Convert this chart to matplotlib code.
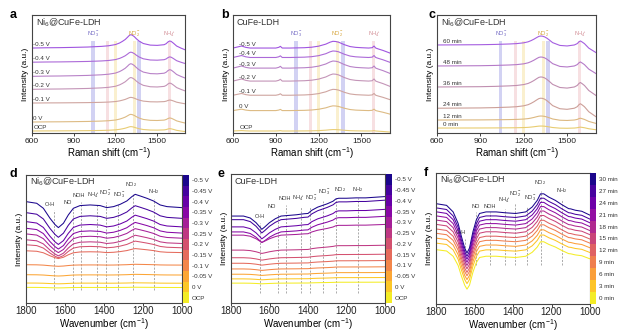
import matplotlib.pyplot as plt
import numpy as np
from matplotlib.colors import ListedColormap

plt.rcParams['font.family'] = ['Liberation Sans', 'DejaVu Sans']
plt.rcParams['mathtext.fontset'] = 'custom'
plt.rcParams['mathtext.rm'] = 'Liberation Sans'
plt.rcParams['mathtext.it'] = 'Liberation Sans:italic'
plt.rcParams['mathtext.bf'] = 'Liberation Sans:bold'

# ---------------- Raman data (a, b, c) ----------------
raman_x_a = [600, 700, 800, 900, 1000, 1100, 1150, 1200, 1230, 1250, 1270, 1285, 1300, 1310, 1320,
             1335, 1350, 1370, 1400, 1450, 1500, 1550, 1565, 1578, 1590, 1600, 1615, 1640, 1670, 1700]
raman_shape_a = [0, 0.02, 0.03, 0.05, 0.075, 0.125, 0.17, 0.26, 0.38, 0.5, 0.64, 0.79, 0.95, 1.0, 0.97,
                 0.86, 0.7, 0.52, 0.34, 0.22, 0.2, 0.25, 0.33, 0.46, 0.53, 0.5, 0.38, 0.15, 0.0, -0.13]
labels_a = ['-0.5 V', '-0.4 V', '-0.3 V', '-0.2 V', '-0.1 V', '0 V', 'OCP']
base_a = [0.72, 0.60, 0.48, 0.37, 0.254, 0.093, 0.017]
amp_a = [0.113, 0.085, 0.107, 0.10, 0.048, 0.065, 0.037]
colors_a = ['#a055e0', '#ac6ad8', '#b882c8', '#c495b8', '#cfa5a0', '#ddbb84', '#e8cc74']

raman_x_b = [600, 630, 660, 690, 720, 800, 900, 920, 932, 945, 1000, 1100, 1150, 1200, 1250, 1280,
             1300, 1320, 1340, 1380, 1420, 1460, 1500, 1550, 1575, 1588, 1600, 1620, 1650, 1700]
raman_shape_b = [0, 0.15, 0.3, 0.1, 0, 0, 0, 0.1, 0.25, 0, 0, 0.05, 0.12, 0.28, 0.58, 0.87,
                 1.0, 0.97, 0.87, 0.5, 0.22, 0.1, 0.05, 0, 0.05, 0.3, 0.0, -0.15, -0.35, -0.75]
labels_b = ['-0.5 V', '-0.4 V', '-0.3 V', '-0.2 V', '-0.1 V', '0 V', 'OCP']
base_b = [0.72, 0.64, 0.55, 0.44, 0.32, 0.19, 0.017]
amp_b = [0.057, 0.055, 0.06, 0.06, 0.05, 0.04, 0.012]
colors_b = ['#a055e0', '#ac6ad8', '#b882c8', '#c495b8', '#cfa5a0', '#ddbb84', '#e8cc74']

raman_x_c = [600, 700, 800, 900, 1000, 1100, 1150, 1200, 1230, 1250, 1270, 1290, 1305, 1318, 1330,
             1345, 1360, 1380, 1400, 1450, 1500, 1550, 1570, 1582, 1592, 1605, 1620, 1650, 1680, 1700]
raman_shape_c = [0, 0.01, 0.02, 0.03, 0.06, 0.11, 0.15, 0.24, 0.35, 0.48, 0.64, 0.83, 0.96, 1.0, 0.98,
                 0.9, 0.76, 0.52, 0.26, -0.05, -0.11, 0, 0.15, 0.35, 0.45, 0.32, 0.15, -0.35, -0.65, -0.85]
labels_c = ['60 min', '48 min', '36 min', '24 min', '12 min', '0 min']
base_c = [0.746, 0.568, 0.39, 0.21, 0.11, 0.042]
amp_c = [0.076, 0.076, 0.085, 0.085, 0.034, 0.017]
colors_c = ['#a55ee0', '#b57ac8', '#c08fb0', '#cc9f98', '#dcb880', '#e8cc70']

no3_bands = [1040, 1370]
nh4_bands = [1143, 1587]
no2_bands = [1200, 1335]

# ---------------- FTIR data (d, e, f) ----------------
ftir_x_d = [1800, 1745, 1711, 1677, 1651, 1634, 1608, 1583, 1557, 1523, 1471, 1420, 1386, 1351,
            1317, 1283, 1257, 1240, 1214, 1180, 1146, 1112, 1077, 1000]
ftir_shape_d = [0, -0.013, -0.052, -0.13, -0.18, -0.203, -0.169, -0.104, -0.052, -0.031, -0.026, -0.031,
                -0.047, -0.039, -0.021, 0.005, 0.039, 0.057, 0.044, 0.026, 0.005, -0.026, -0.039, -0.047]
labels_d = ['-0.5 V', '-0.45 V', '-0.4 V', '-0.35 V', '-0.3 V', '-0.25 V', '-0.2 V', '-0.15 V',
            '-0.1 V', '-0.05 V', '0 V', 'OCP']
offset_d = [0.792, 0.706, 0.636, 0.584, 0.540, 0.494, 0.455, 0.408, 0.299, 0.221, 0.156, 0.122]
scale_d = [1.0, 0.95, 0.88, 0.8, 0.72, 0.62, 0.5, 0.3, 0.06, 0.05, 0.03, 0.02]

ftir_x_e = [1800, 1735, 1700, 1670, 1650, 1640, 1625, 1600, 1570, 1540, 1500, 1460, 1420, 1400,
            1380, 1350, 1300, 1270, 1255, 1240, 1200, 1150, 1100, 1050, 1000]
ftir_shape_e = [0.0, 0.0, -0.015, -0.051, -0.085, -0.103, -0.085, -0.051, -0.021, 0.0, 0.005, 0.01, 0.018,
                0.02, 0.045, 0.069, 0.095, 0.115, 0.133, 0.138, 0.138, 0.141, 0.141, 0.146, 0.151]
labels_e = ['-0.5 V', '-0.45 V', '-0.4 V', '-0.35 V', '-0.3 V', '-0.25 V', '-0.2 V', '-0.15 V',
            '-0.1 V', '-0.05 V', '0 V', 'OCP']
offset_e = [0.674, 0.646, 0.590, 0.551, 0.526, 0.410, 0.351, 0.308, 0.264, 0.223, 0.187, 0.154]
scale_e = [1.0, 1.0, 0.9, 0.8, 0.55, 0.25, 0.18, 0.14, 0.11, 0.09, 0.07, 0.05]

ftir_x_f = [1800, 1745, 1711, 1685, 1668, 1651, 1639, 1626, 1608, 1591, 1574, 1540, 1488, 1437,
            1386, 1334, 1300, 1274, 1257, 1240, 1214, 1180, 1146, 1111, 1100, 1077, 1043, 1000]
ftir_shape_f = [0, -0.013, -0.063, -0.151, -0.251, -0.339, -0.377, -0.339, -0.214, -0.126, -0.075, -0.063,
                -0.063, -0.070, -0.075, -0.063, -0.025, 0.025, 0.075, 0.075, 0.050, 0.025, -0.008, -0.038,
                -0.04, -0.050, -0.058, -0.088]
labels_f = ['30 min', '27 min', '24 min', '21 min', '18 min', '15 min', '12 min', '9 min',
            '6 min', '3 min', '0 min']
offset_f = [0.766, 0.734, 0.704, 0.673, 0.641, 0.608, 0.573, 0.540, 0.503, 0.465, 0.415]
scale_f = [1.0, 0.98, 0.96, 0.94, 0.92, 0.9, 0.88, 0.86, 0.84, 0.82, 0.8]

# species markers (dashed lines) in the FTIR panels
species = ['O-H', 'NO', 'NOH', 'NH$_4^+$', 'NO$_2^-$', 'NO$_3^-$', 'NO$_2$', 'NH$_2$']
mark_x_d = [1656, 1560, 1519, 1437, 1389, 1326, 1252, 1142]
text_x_d = [1677, 1585, 1527, 1456, 1392, 1320, 1262, 1146]
text_y_d = [0.753, 0.766, 0.818, 0.805, 0.818, 0.805, 0.891, 0.839]
mark_x_e = [1649, 1554, 1514, 1437, 1390, 1322, 1253, 1141]
text_x_e = [1649, 1590, 1522, 1448, 1380, 1313, 1235, 1141]
text_y_e = [0.654, 0.731, 0.787, 0.777, 0.777, 0.82, 0.846, 0.846]
mark_x_f = [1650, 1590, 1520, 1440, 1391, 1326, 1257, 1146]
text_x_f = [1672, 1592, 1522, 1446, 1388, 1310, 1257, 1146]
text_y_f = [0.528, 0.729, 0.729, 0.754, 0.804, 0.774, 0.892, 0.834]

W, H = 634, 332
fig = plt.figure(figsize=(W / 100, H / 100), dpi=100)


def px_axes(left, top, right, bottom):
    return fig.add_axes([left / W, (H - bottom) / H, (right - left) / W, (bottom - top) / H])


def style_axes(ax, tick_size, pad):
    for s in ax.spines.values():
        s.set_color('#444444')
        s.set_linewidth(0.8)
    ax.set_yticks([])
    ax.tick_params(axis='x', labelsize=tick_size, length=2, width=0.6, pad=pad, colors='#222222')
    ax.set_ylim(0, 1)


def raman_panel(ax, x, shape, base, amp, colors, labels, label_x, title):
    shape = np.array(shape)
    for bx in no3_bands:
        ax.axvspan(bx - 13, bx + 13, ymax=0.78, color='#b4b4ec', alpha=0.6, lw=0)
    for bx in nh4_bands:
        ax.axvspan(bx - 10, bx + 10, ymax=0.78, color='#f2ccd0', alpha=0.6, lw=0)
    for bx in no2_bands:
        ax.axvspan(bx - 10, bx + 10, ymax=0.78, color='#f8e6b0', alpha=0.6, lw=0)
    ax.text(1045, 0.80, 'NO$_3^-$', fontsize=4, color='#6a60c0', ha='center', va='bottom')
    ax.text(1335, 0.80, 'NO$_2^-$', fontsize=4, color='#d4a030', ha='center', va='bottom')
    ax.text(1590, 0.80, 'NH$_4^+$', fontsize=4, color='#d08890', ha='center', va='bottom')
    for b, a, c, lab in zip(base, amp, colors, labels):
        ax.plot(x, b + a * shape, color=c, lw=0.8)
        ax.text(label_x, b + 0.012, lab, fontsize=4.5, color='#333333', va='bottom')
    ax.set_xlim(600, 1700)
    ax.set_xticks([600, 900, 1200, 1500])
    style_axes(ax, 6, 1.5)
    ax.set_xlabel('Raman shift (cm$^{-1}$)', fontsize=7, labelpad=0)
    ax.set_ylabel('Intensity (a.u.)', fontsize=6, labelpad=2)
    ax.text(0.025, 0.935, title, transform=ax.transAxes, fontsize=6.5, color='#333333', va='center')


def ftir_panel(ax, cax, x, shape, offset, scale, labels, mark_x, text_x, text_y, low, title):
    shape = np.array(shape)
    n = len(labels)
    colors = plt.cm.plasma(np.linspace(0.02, 0.97, n))
    for mx, tx, ty, sp in zip(mark_x, text_x, text_y, species):
        ax.plot([mx, mx], [low, ty - 0.03], color='#8a8a8a', lw=0.5, ls=(0, (3, 2)), zorder=1)
        ax.text(tx, ty, sp, fontsize=4, color='#333333', ha='center', va='bottom', zorder=4)
    for o, s, c in zip(offset, scale, colors):
        ax.plot(x, o + s * shape, color=c, lw=0.75, zorder=2)
    ax.set_xlim(1800, 1000)
    ax.set_xticks([1800, 1600, 1400, 1200, 1000])
    style_axes(ax, 7, 0.5)
    ax.set_xlabel('Wavenumber (cm$^{-1}$)', fontsize=7, labelpad=-0.5)
    ax.set_ylabel('Intensity (a.u.)', fontsize=6, labelpad=2)
    ax.text(0.025, 0.945, title, transform=ax.transAxes, fontsize=6.5, color='#333333', va='center')

    cax.imshow(np.arange(n).reshape(n, 1), cmap=ListedColormap(colors), aspect='auto',
               extent=[0, 1, n - 0.5, -0.5])
    cax.set_xticks([])
    cax.set_yticks(range(n))
    cax.set_yticklabels(labels)
    cax.yaxis.tick_right()
    cax.tick_params(axis='y', length=0, labelsize=4.5, pad=2, colors='#333333')
    for s in cax.spines.values():
        s.set_visible(False)


ax_a = px_axes(32, 15, 185, 133)
ax_b = px_axes(233, 15, 390, 133)
ax_c = px_axes(437, 15, 596, 133)
raman_panel(ax_a, raman_x_a, raman_shape_a, base_a, amp_a, colors_a, labels_a, 610, 'Ni$_6$@CuFe-LDH')
raman_panel(ax_b, raman_x_b, raman_shape_b, base_b, amp_b, colors_b, labels_b, 645, 'CuFe-LDH')
raman_panel(ax_c, raman_x_c, raman_shape_c, base_c, amp_c, colors_c, labels_c, 640, 'Ni$_6$@CuFe-LDH')

ax_d = px_axes(26, 175, 182, 303)
cax_d = px_axes(183, 175, 189, 303)
ax_e = px_axes(231, 174, 385, 303)
cax_e = px_axes(386, 174, 392, 303)
ax_f = px_axes(436, 173, 590, 304)
cax_f = px_axes(590, 173, 596, 304)
ftir_panel(ax_d, cax_d, ftir_x_d, ftir_shape_d, offset_d, scale_d, labels_d,
           mark_x_d, text_x_d, text_y_d, 0.104, 'Ni$_6$@CuFe-LDH')
ftir_panel(ax_e, cax_e, ftir_x_e, ftir_shape_e, offset_e, scale_e, labels_e,
           mark_x_e, text_x_e, text_y_e, 0.077, 'CuFe-LDH')
ftir_panel(ax_f, cax_f, ftir_x_f, ftir_shape_f, offset_f, scale_f, labels_f,
           mark_x_f, text_x_f, text_y_f, 0.3, 'Ni$_6$@CuFe-LDH')

# panel letters
for letter, lx, ly in [('a', 13, 15), ('b', 225, 15), ('c', 432, 15),
                       ('d', 13, 174), ('e', 221, 174), ('f', 426, 173)]:
    fig.text(lx / W, (H - ly) / H, letter, fontsize=9, fontweight='bold', ha='center', va='center')

fig.savefig('out.png', dpi=100)
